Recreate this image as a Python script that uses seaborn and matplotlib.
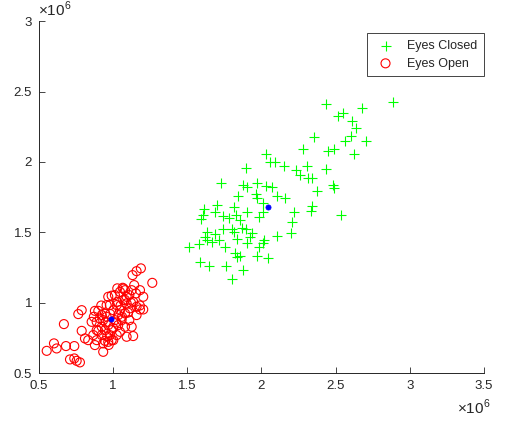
import numpy as np
import pandas as pd
import matplotlib
matplotlib.use("Agg")
import matplotlib.pyplot as plt
import seaborn as sns

# Valores en millones (x10^6)
closed_x = [2.432, 2.679, 2.517, 2.551, 2.611, 2.641, 2.353, 2.603, 2.562, 2.704,
            2.281, 2.446, 2.490, 2.625, 2.028, 2.057, 2.090, 2.153, 1.895, 2.230,
            2.304, 2.432, 2.259, 2.311, 2.342, 1.727, 1.967, 1.873, 1.904, 2.030,
            2.068, 2.483, 2.490, 2.378, 1.843, 1.962, 2.102, 2.162, 1.967, 2.012,
            1.698, 1.816, 2.344, 2.331, 1.614, 1.686, 1.900, 2.012, 2.218, 1.603,
            1.742, 1.828, 1.983, 2.535, 1.592, 1.782, 1.855, 2.207, 1.742, 1.799,
            1.634, 1.866, 1.895, 1.933, 1.686, 1.814, 2.198, 2.102, 1.619, 1.715,
            1.664, 1.630, 1.922, 2.018, 2.008, 1.832, 1.906, 1.513, 1.580, 1.753,
            1.985, 1.821, 1.855, 1.832, 1.967, 2.045, 1.585, 1.648, 1.760, 1.873,
            1.799, 2.884]
closed_y = [2.408, 2.380, 2.327, 2.344, 2.290, 2.238, 2.174, 2.183, 2.150, 2.150,
            2.089, 2.079, 2.089, 2.053, 2.053, 1.996, 1.996, 1.972, 1.958, 1.942,
            1.970, 1.947, 1.906, 1.887, 1.887, 1.852, 1.852, 1.835, 1.819, 1.830,
            1.823, 1.835, 1.812, 1.793, 1.759, 1.769, 1.757, 1.741, 1.741, 1.705,
            1.693, 1.677, 1.686, 1.653, 1.663, 1.646, 1.641, 1.646, 1.646, 1.622,
            1.615, 1.622, 1.610, 1.622, 1.592, 1.603, 1.587, 1.575, 1.521, 1.521,
            1.504, 1.532, 1.521, 1.492, 1.487, 1.504, 1.492, 1.473, 1.468, 1.445,
            1.433, 1.445, 1.468, 1.445, 1.421, 1.450, 1.421, 1.393, 1.416, 1.397,
            1.397, 1.350, 1.333, 1.322, 1.333, 1.315, 1.290, 1.260, 1.260, 1.231,
            1.165, 2.423]

open_x = [1.187, 1.158, 1.131, 1.264, 1.142, 1.028, 1.064, 1.046, 1.080, 1.125,
          1.181, 0.967, 1.012, 1.109, 1.154, 1.203, 1.028, 1.068, 1.091, 1.135,
          0.956, 0.788, 0.765, 0.877, 0.900, 0.945, 1.001, 1.046, 1.113, 1.158,
          1.181, 1.203, 0.923, 1.034, 1.080, 1.109, 1.158, 0.855, 0.889, 0.933,
          1.012, 1.057, 0.668, 0.923, 0.967, 1.034, 1.080, 1.125, 0.788, 0.889,
          0.945, 0.990, 1.046, 0.866, 0.923, 0.978, 1.024, 1.091, 1.135, 0.810,
          0.832, 0.889, 0.945, 0.990, 0.601, 0.619, 0.682, 0.738, 0.877, 0.933,
          0.552, 0.933, 0.709, 0.738, 0.754, 0.776, 0.967, 1.024, 0.978, 1.091,
          0.911, 0.956, 1.001,
          0.92, 0.98, 1.05, 1.10, 0.95, 1.00, 1.06, 0.90, 0.96, 1.02,
          1.08, 0.99, 1.12, 0.87, 0.97, 1.18, 1.07]
open_y = [1.244, 1.224, 1.196, 1.141, 1.125, 1.102, 1.106, 1.077, 1.089, 1.089,
          1.089, 1.042, 1.054, 1.054, 1.066, 1.042, 1.006, 1.018, 0.995, 1.006,
          0.983, 0.947, 0.919, 0.942, 0.942, 0.924, 0.947, 0.947, 0.960, 0.971,
          0.952, 0.952, 0.912, 0.912, 0.924, 0.876, 0.912, 0.864, 0.864, 0.876,
          0.876, 0.876, 0.848, 0.829, 0.841, 0.841, 0.829, 0.829, 0.800, 0.805,
          0.805, 0.805, 0.793, 0.770, 0.770, 0.770, 0.770, 0.758, 0.763, 0.746,
          0.734, 0.734, 0.729, 0.734, 0.711, 0.675, 0.692, 0.692, 0.699, 0.711,
          0.658, 0.651, 0.597, 0.604, 0.587, 0.576, 0.722, 0.983, 0.983, 1.042,
          0.888, 0.900, 0.734,
          0.98, 0.92, 0.98, 0.93, 0.86, 0.82, 0.90, 0.80, 0.76, 0.86,
          1.02, 1.05, 1.00, 0.90, 0.70, 0.98, 1.10]

# centroides
centro_x = [2.041, 0.983]
centro_y = [1.679, 0.881]

x_ticks = [0.5, 1, 1.5, 2, 2.5, 3, 3.5]
y_ticks = [0.5, 1, 1.5, 2, 2.5, 3]

df_closed = pd.DataFrame({"x": closed_x, "y": closed_y})
df_open = pd.DataFrame({"x": open_x, "y": open_y})
df_centro = pd.DataFrame({"x": centro_x, "y": centro_y})

sns.set_theme(style="white")
gris = "#262626"
plt.rcParams["font.family"] = ["Liberation Sans", "DejaVu Sans"]
plt.rcParams["mathtext.fontset"] = "custom"
plt.rcParams["mathtext.rm"] = "Liberation Sans"
plt.rcParams["xtick.direction"] = "in"
plt.rcParams["ytick.direction"] = "in"

fig = plt.figure(figsize=(5.05, 4.23), dpi=100)
ax = fig.add_axes([0.0772, 0.118, 0.881, 0.832])

sns.scatterplot(ax=ax, data=df_closed, x="x", y="y", marker="+", s=55,
                color="#00ff00", linewidth=0.8, label="Eyes Closed")
sns.scatterplot(ax=ax, data=df_open, x="x", y="y", marker="o", s=42,
                facecolor="none", edgecolor="#ff0000", linewidth=0.8,
                label="Eyes Open")
sns.scatterplot(ax=ax, data=df_centro, x="x", y="y", marker="o", s=14,
                color="#0000ff", edgecolor="#0000ff", linewidth=0.5)

ax.set_xlim(0.5, 3.5)
ax.set_ylim(0.5, 3)
ax.set_xticks(x_ticks)
ax.set_yticks(y_ticks)
ax.set_xticklabels([f"{t:g}" for t in x_ticks])
ax.set_yticklabels([f"{t:g}" for t in y_ticks])
ax.set_xlabel("")
ax.set_ylabel("")
ax.tick_params(axis="both", length=4, width=0.6, color=gris, labelcolor=gris,
               labelsize=9.5, pad=5, left=True, bottom=True)

for lado in ["top", "right"]:
    ax.spines[lado].set_visible(False)
for lado in ["left", "bottom"]:
    ax.spines[lado].set_color(gris)
    ax.spines[lado].set_linewidth(0.7)

ax.text(-0.003, 1.006, r"$\times10^{6}$", transform=ax.transAxes, ha="left",
        va="bottom", fontsize=11, color=gris)
ax.text(1.015, -0.07, r"$\times10^{6}$", transform=ax.transAxes, ha="right",
        va="top", fontsize=11, color=gris)

leg = ax.legend(loc="upper right", bbox_to_anchor=(1.0, 0.966), fontsize=9,
                frameon=True, fancybox=False, edgecolor=gris, framealpha=1,
                borderpad=0.55, handletextpad=0.8, labelspacing=0.45,
                borderaxespad=0, handlelength=1.8)
leg.get_frame().set_linewidth(0.6)

fig.savefig("out.png", dpi=100)
